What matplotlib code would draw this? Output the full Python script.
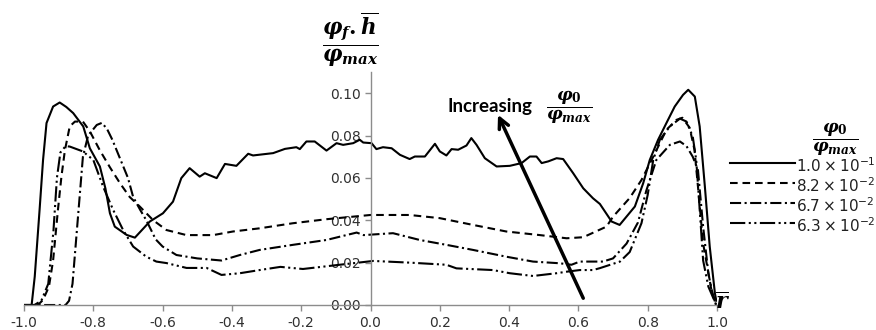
import matplotlib
matplotlib.use("Agg")
import matplotlib.pyplot as plt
from matplotlib.lines import Line2D
from matplotlib.ticker import FormatStrFormatter

plt.rcParams['mathtext.fontset'] = 'custom'
plt.rcParams['mathtext.it'] = 'DejaVu Serif:italic:bold'
plt.rcParams['mathtext.rm'] = 'DejaVu Serif:bold'
plt.rcParams['mathtext.bf'] = 'DejaVu Serif:bold'
plt.rcParams['lines.scale_dashes'] = False
plt.rcParams['font.family'] = ['DejaVu Sans']

# ---------------- data ----------------
solid_r = [-1.0, -0.978, -0.969, -0.955, -0.945, -0.935, -0.916, -0.897, -0.878, -0.858, -0.829, -0.81,
           -0.781, -0.765, -0.752, -0.738, -0.704, -0.68, -0.637, -0.599, -0.57, -0.546, -0.522, -0.493,
           -0.478, -0.444, -0.42, -0.387, -0.353, -0.339, -0.281, -0.247, -0.214, -0.204, -0.185, -0.161,
           -0.127, -0.098, -0.079, -0.05, -0.031, -0.021, 0.003, 0.017, 0.036, 0.061, 0.085, 0.113, 0.128,
           0.157, 0.186, 0.2, 0.219, 0.234, 0.253, 0.277, 0.291, 0.306, 0.33, 0.364, 0.402, 0.436, 0.46,
           0.479, 0.494, 0.513, 0.537, 0.556, 0.585, 0.614, 0.642, 0.662, 0.696, 0.719, 0.763, 0.787, 0.806,
           0.83, 0.854, 0.878, 0.902, 0.917, 0.936, 0.95, 0.965, 0.979, 0.994, 0.998]
solid_v = [0, 0, 0.0134, 0.045, 0.0685, 0.0859, 0.0937, 0.0956, 0.0935, 0.0906, 0.0843, 0.074,
           0.0654, 0.055, 0.0433, 0.037, 0.0331, 0.0318, 0.0394, 0.0433, 0.0488, 0.0599, 0.0646, 0.0606,
           0.0622, 0.0599, 0.0666, 0.0657, 0.0714, 0.0706, 0.0717, 0.0737, 0.0745, 0.0736, 0.0772, 0.0772,
           0.0729, 0.0764, 0.0756, 0.0764, 0.078, 0.0767, 0.0764, 0.0736, 0.0745, 0.074, 0.0709, 0.0689, 0.0701,
           0.0701, 0.0761, 0.0725, 0.0706, 0.0736, 0.0733, 0.0753, 0.0788, 0.0756, 0.0693, 0.0654, 0.0657, 0.067, 0.0701,
           0.0701, 0.067, 0.0678, 0.0693, 0.0689, 0.0622, 0.0551, 0.0504, 0.0477, 0.0394, 0.0378, 0.0465, 0.0575, 0.0685,
           0.078, 0.0859, 0.0937, 0.0992, 0.1016, 0.0984, 0.0843, 0.0559, 0.0276, 0.0055, 0.002]

dash_r = [-1.0, -0.96, -0.945, -0.928, -0.916, -0.902, -0.892, -0.882, -0.868, -0.853, -0.83, -0.81,
          -0.781, -0.752, -0.723, -0.695, -0.666, -0.627, -0.589, -0.531, -0.454, -0.397, -0.32, -0.224,
          -0.127, 0.0, 0.113, 0.2, 0.296, 0.392, 0.489, 0.566, 0.614, 0.681, 0.70, 0.748, 0.782, 0.816,
          0.854, 0.883, 0.90, 0.921, 0.935, 0.945, 0.96, 0.984, 0.997]
dash_v = [0, 0, 0.0024, 0.0087, 0.021, 0.045, 0.0606, 0.073, 0.0843, 0.0866, 0.0866, 0.082,
          0.073, 0.065, 0.0575, 0.051, 0.0465, 0.040, 0.0354, 0.033, 0.033, 0.0347, 0.0362, 0.0386,
          0.0405, 0.0425, 0.0425, 0.041, 0.0378, 0.0347, 0.033, 0.0315, 0.032, 0.037, 0.0417, 0.0505, 0.059, 0.070,
          0.0827, 0.0874, 0.0884, 0.0837, 0.0733, 0.056, 0.029, 0.007, 0]

dd_r = [-1.0, -0.88, -0.87, -0.86, -0.845, -0.83, -0.815, -0.79, -0.775, -0.76, -0.745, -0.73, -0.70,
        -0.685, -0.665, -0.647, -0.62, -0.60, -0.56, -0.50, -0.43, -0.377, -0.32, -0.224, -0.127, -0.04,
        -0.02, 0.065, 0.142, 0.219, 0.296, 0.392, 0.469, 0.546, 0.58, 0.604, 0.671, 0.70, 0.739, 0.772,
        0.796, 0.825, 0.864, 0.893, 0.912, 0.93, 0.945, 0.96, 0.975, 0.985, 0.997]
dd_v = [0, 0, 0.002, 0.01, 0.04, 0.07, 0.08, 0.085, 0.086, 0.083, 0.078, 0.072, 0.06,
        0.051, 0.045, 0.040, 0.031, 0.0276, 0.0236, 0.022, 0.021, 0.0236, 0.026, 0.0284, 0.0307, 0.0342,
        0.033, 0.0339, 0.0307, 0.0284, 0.026, 0.0228, 0.0205, 0.0197, 0.019, 0.0205, 0.0205, 0.022, 0.029, 0.039,
        0.054, 0.0685, 0.0756, 0.0772, 0.075, 0.070, 0.0638, 0.037, 0.015, 0.007, 0]

ddd_r = [-1.0, -0.97, -0.95, -0.93, -0.915, -0.905, -0.895, -0.88, -0.868, -0.83, -0.80, -0.772, -0.743,
         -0.714, -0.685, -0.647, -0.618, -0.589, -0.531, -0.473, -0.43, -0.377, -0.32, -0.26, -0.195, -0.089,
         0.008, 0.113, 0.219, 0.248, 0.353, 0.402, 0.469, 0.537, 0.565, 0.604, 0.642, 0.662, 0.72, 0.748,
         0.782, 0.80, 0.816, 0.835, 0.864, 0.893, 0.912, 0.93, 0.94, 0.948, 0.96, 0.975, 0.99, 0.998]
ddd_v = [0, 0, 0.002, 0.01, 0.035, 0.06, 0.072, 0.075, 0.0748, 0.0725, 0.0685, 0.056, 0.045,
         0.0354, 0.0276, 0.0228, 0.0205, 0.0198, 0.0175, 0.0175, 0.0142, 0.015, 0.0165, 0.018, 0.017, 0.019,
         0.0208, 0.020, 0.019, 0.0173, 0.0165, 0.015, 0.0137, 0.015, 0.0157, 0.0165, 0.0165, 0.0174, 0.0205, 0.025,
         0.0386, 0.052, 0.0685, 0.078, 0.0843, 0.088, 0.0866, 0.0795, 0.0685, 0.05, 0.021, 0.0087, 0.003, 0]

series_labels = [r'$\mathregular{1.0\times10^{-1}}$', r'$\mathregular{8.2\times10^{-2}}$',
                 r'$\mathregular{6.7\times10^{-2}}$', r'$\mathregular{6.3\times10^{-2}}$']
x_ticks = [-1.0, -0.8, -0.6, -0.4, -0.2, 0.0, 0.2, 0.4, 0.6, 0.8, 1.0]
y_ticks = [0.00, 0.02, 0.04, 0.06, 0.08, 0.10]

arrow_tail = (0.614, 0.0032)
arrow_head = (0.368, 0.0898)

# ---------------- figure ----------------
W, H = 876, 330
fig = plt.figure(figsize=(W / 100, H / 100), dpi=100)
ax = fig.add_axes([24 / W, 25 / H, (717 - 24) / W, (305 - 72) / H])

styles = ['-', (0, (5.5, 3.5)), (0, (8, 2.5, 1.5, 2.5)), (0, (11, 2.5, 1.5, 2.5, 1.5, 2.5))]
data = [(solid_r, solid_v), (dash_r, dash_v), (dd_r, dd_v), (ddd_r, ddd_v)]
lines = []
for (r, v), ls in zip(data, styles):
    ln, = ax.plot(r, v, color='black', lw=1.5, linestyle=ls, solid_joinstyle='round')
    lines.append(ln)

ax.set_xlim(-1.0, 1.0)
ax.set_ylim(0, 0.11)
ax.spines['top'].set_visible(False)
ax.spines['right'].set_visible(False)
ax.spines['left'].set_position(('data', 0))
for s in ['left', 'bottom']:
    ax.spines[s].set_color('#8c8c8c')
    ax.spines[s].set_linewidth(1.0)
ax.set_xticks(x_ticks)
ax.set_yticks(y_ticks)
ax.xaxis.set_major_formatter(FormatStrFormatter('%.1f'))
ax.yaxis.set_major_formatter(FormatStrFormatter('%.2f'))
ax.tick_params(axis='both', direction='out', length=4, width=1.0, color='#8c8c8c',
               labelsize=10, labelcolor='#303030')
ax.tick_params(axis='x', pad=4)
ax.tick_params(axis='y', pad=3)
ax.patch.set_visible(False)

# arrow
ax.annotate('', xy=arrow_head, xytext=arrow_tail,
            arrowprops=dict(arrowstyle='->', lw=2.5, color='black', mutation_scale=18,
                            shrinkA=0, shrinkB=0))

def fx(px):
    return px / W

def fy(py):
    return (H - py) / H

fig.text(fx(447), fy(112), 'Increasing', fontsize=13.5, fontweight='bold', family='Lato',
         ha='left', va='baseline')
fig.text(fx(569), fy(107), r'$\dfrac{\varphi_0}{\varphi_{max}}$', fontsize=12.5,
         ha='center', va='center')

# y label
fig.text(fx(350), fy(40), r'$\dfrac{\varphi_f.\overline{h}}{\varphi_{max}}$', fontsize=15.5,
         ha='center', va='center')
# x label
fig.text(fx(723), fy(302), r'$\overline{r}$', fontsize=16, ha='center', va='center')

# legend
fig.text(fx(835), fy(139), r'$\dfrac{\varphi_0}{\varphi_{max}}$', fontsize=12.5,
         ha='center', va='center')
rows = [163, 183, 203, 223]
for ls, lab, py in zip(styles, series_labels, rows):
    fig.add_artist(Line2D([fx(730), fx(795)], [fy(py), fy(py)], color='black', lw=1.5, linestyle=ls))
    fig.text(fx(796), fy(py + 3), lab, fontsize=11, ha='left', va='center', color='#202020')

fig.savefig('out.png', dpi=100)
